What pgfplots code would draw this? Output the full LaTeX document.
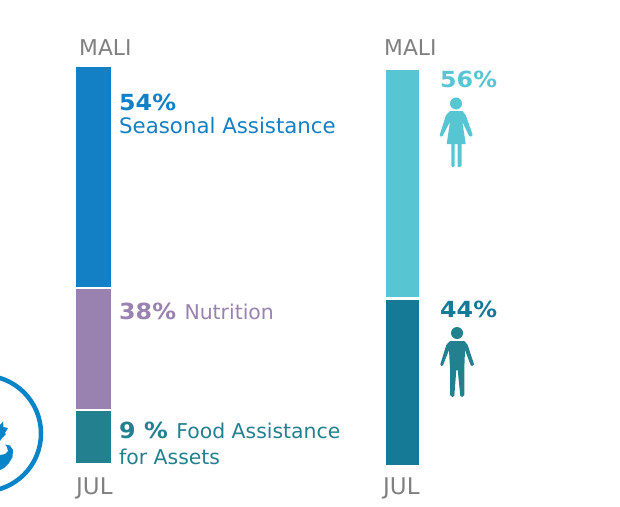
\documentclass[border=0pt]{standalone}
\usepackage{pgfplots}
\pgfplotsset{compat=1.18}
\usepackage{fontspec}
\setmainfont{DejaVu Sans}
\newfontface\widebold{DejaVu Sans Bold}[FakeStretch=1.07]
\definecolor{cblue}{HTML}{1380C6}
\definecolor{cring}{HTML}{0A84C8}
\definecolor{cpurple}{HTML}{9A82B0}
\definecolor{cteal}{HTML}{22808F}
\definecolor{clight}{HTML}{57C6D2}
\definecolor{cdark}{HTML}{147A96}
\definecolor{cgrey}{HTML}{808080}
\newcommand{\lab}{\fontsize{20.4}{24}\selectfont}
\newcommand{\labb}{\fontsize{21.3}{24}\selectfont}
\newcommand{\bld}[1]{{\fontsize{22.2}{24}\widebold #1}}
\newcommand{\hd}{\fontsize{21.8}{24}\selectfont}
\begin{document}
\begin{tikzpicture}
\useasboundingbox (0,0) rectangle (620pt,506pt);
\begin{axis}[
  at={(0,0)}, anchor=south west,
  width=620pt, height=506pt, scale only axis,
  xmin=0, xmax=620, ymin=0, ymax=506,
  y dir=reverse, hide axis,
  bar/.style={draw=none, fill=#1},
]
% left stack
\addplot[bar=cblue] coordinates {(76,67) (111,67) (111,287) (76,287)} -- cycle;
\addplot[bar=cpurple] coordinates {(76,289) (111,289) (111,408.5) (76,408.5)} -- cycle;
\addplot[bar=cteal] coordinates {(76,411) (111,411) (111,463) (76,463)} -- cycle;
% right stack
\addplot[bar=clight] coordinates {(386,70) (419,70) (419,297) (386,297)} -- cycle;
\addplot[bar=cdark] coordinates {(386,300) (419,300) (419,465) (386,465)} -- cycle;
% woman
\addplot[bar=clight] coordinates {(450,111) (462.3,111) (465.7,115) (472.7,135) (471,136.7) (469,135.7)
  (462.3,121.7) (465.7,144) (461.7,144) (461.7,166) (459,167.3) (457.7,166) (457.7,144) (454.7,144)
  (454.7,166) (452.7,167.3) (451.3,166) (451.3,144) (446.7,144) (450,121.7) (442.7,135.7) (440.7,136.7)
  (439.7,135) (446,115)} -- cycle;
% man
\addplot[bar=cteal] coordinates {(450,341) (464.3,341) (467.7,345) (474,364.3) (472.3,366) (470.7,365.3)
  (465,350) (464.3,368.3) (464.3,395) (462.3,397) (460.3,396) (457.7,370) (456.3,370) (454.3,396)
  (452.3,397) (450,395) (450,368.3) (449,350) (443,365.3) (441.3,366) (440.3,364.3) (446.3,345)} -- cycle;
\fill[clight] (axis cs:456,103.5) circle[radius=6pt];
\fill[cteal] (axis cs:457,333) circle[radius=6pt];
% logo
\begin{scope}
\clip (axis cs:0,360) rectangle (axis cs:60,506);
\draw[cring, line width=4.5pt] (axis cs:-17,433.5) circle[radius=58pt];
\end{scope}
\addplot[bar=cring] coordinates {(5,444.5) (10,445.5) (13,450) (12.5,457) (9,463) (4,468) (0,470)
  (0,455) (5,454) (8,451) (7,447)} -- cycle;
\addplot[bar=cring] coordinates {(0,425) (3,421.5) (3.5,427) (8,428) (5,433) (6,434) (2,438) (0,441)} -- cycle;
% labels
\node[anchor=base west, text=cgrey, inner sep=0pt] at (axis cs:79,55) {\hd MALI};
\node[anchor=base west, text=cgrey, inner sep=0pt] at (axis cs:384,55) {\hd MALI};
\node[anchor=base west, text=cgrey, inner sep=0pt] at (axis cs:76,494) {\fontsize{23}{24}\selectfont JUL};
\node[anchor=base west, text=cgrey, inner sep=0pt] at (axis cs:383,494) {\fontsize{23}{24}\selectfont JUL};
\node[anchor=base west, text=cblue, inner sep=0pt] at (axis cs:119,110) {\bld{54\%}};
\node[anchor=base west, text=cblue, inner sep=0pt] at (axis cs:119,133) {\labb Seasonal Assistance};
\node[anchor=base west, text=cpurple, inner sep=0pt] at (axis cs:119,319) {\bld{38\%}\lab\hspace{2pt} Nutrition};
\node[anchor=base west, text=cteal, inner sep=0pt] at (axis cs:119,438) {\bld{9 \%}\lab\hspace{2pt} Food Assistance};
\node[anchor=base west, text=cteal, inner sep=0pt] at (axis cs:119,464) {\lab for Assets};
\node[anchor=base west, text=clight, inner sep=0pt] at (axis cs:440,87) {\bld{56\%}};
\node[anchor=base west, text=cdark, inner sep=0pt] at (axis cs:440,317) {\bld{44\%}};
\end{axis}
\end{tikzpicture}
\end{document}
